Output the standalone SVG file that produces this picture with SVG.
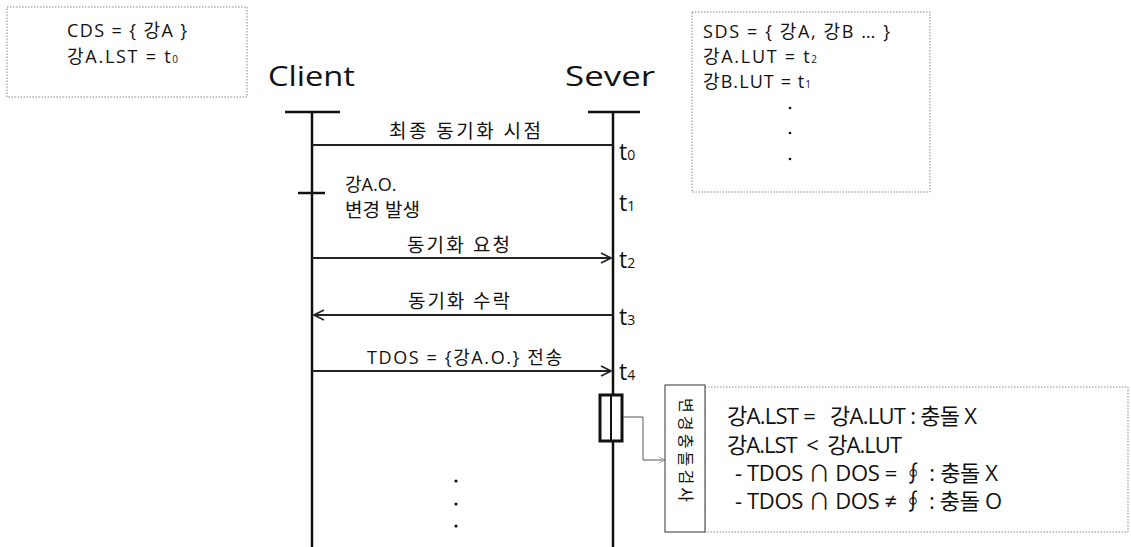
<svg xmlns="http://www.w3.org/2000/svg" width="1131" height="547" viewBox="0 0 1131 547">
<style>
.t{font-family:"Open Sans","Noto Sans CJK KR","Liberation Sans",sans-serif;fill:#111;white-space:pre}
.box{fill:#fff;stroke:#888;stroke-width:1;stroke-dasharray:1.5 1.5}
.life{stroke:#111;stroke-width:2.5;fill:none}
.msg{stroke:#222;stroke-width:2;fill:none}
</style>
<defs>
<marker id="ah" viewBox="0 0 12 12" refX="11" refY="6" markerWidth="12" markerHeight="12" markerUnits="userSpaceOnUse" orient="auto">
<path d="M1,1 L11,6 L1,11" fill="none" stroke="#222" stroke-width="1.6"/>
</marker>
<marker id="ah2" viewBox="0 0 10 10" refX="9" refY="5" markerWidth="8" markerHeight="8" markerUnits="userSpaceOnUse" orient="auto">
<path d="M1,1 L9,5 L1,9" fill="none" stroke="#999" stroke-width="1"/>
</marker>
</defs>
<rect width="1131" height="547" fill="#fff"/>
<g id="cds">
<rect class="box" x="7" y="7" width="240" height="90"/>
<text class="t" x="67" y="37" font-size="18" textLength="120" lengthAdjust="spacing" xml:space="preserve">CDS = { 강A }</text>
<text class="t" x="67" y="63" font-size="18" textLength="111" lengthAdjust="spacing" xml:space="preserve">강A.LST = t<tspan font-size="10">0</tspan></text>
</g>
<g id="sds">
<rect class="box" x="692" y="12" width="238" height="180"/>
<text class="t" x="703" y="38" font-size="18" textLength="187" lengthAdjust="spacing" xml:space="preserve">SDS = { 강A, 강B … }</text>
<text class="t" x="703" y="63" font-size="18" textLength="114" lengthAdjust="spacing" xml:space="preserve">강A.LUT = t<tspan font-size="10">2</tspan></text>
<text class="t" x="703" y="88" font-size="18" textLength="108" lengthAdjust="spacing" xml:space="preserve">강B.LUT = t<tspan font-size="10">1</tspan></text>
<circle cx="790" cy="108" r="1.3" fill="#111"/>
<circle cx="790" cy="133" r="1.3" fill="#111"/>
<circle cx="790" cy="159" r="1.3" fill="#111"/>
</g>
<g id="client">
<text class="t" x="268" y="86" font-size="27" textLength="87" lengthAdjust="spacingAndGlyphs">Client</text>
<line class="life" x1="285" y1="112" x2="340" y2="112"/>
<line class="life" x1="312" y1="112" x2="312" y2="547"/>
<line class="life" x1="298" y1="193" x2="325" y2="193"/>
<text class="t" x="345" y="191" font-size="18">강A.O.</text>
<text class="t" x="345" y="217" font-size="19" xml:space="preserve">변경 발생</text>
<circle cx="456" cy="481" r="1.6" fill="#111"/>
<circle cx="456" cy="504" r="1.6" fill="#111"/>
<circle cx="456" cy="526" r="1.6" fill="#111"/>
</g>
<g id="server">
<text class="t" x="565" y="86" font-size="27" textLength="90" lengthAdjust="spacingAndGlyphs">Sever</text>
<line class="life" x1="588" y1="112" x2="640" y2="112"/>
<line class="life" x1="613" y1="112" x2="613" y2="547"/>
<rect x="600" y="395" width="22" height="46" fill="#fff" stroke="#111" stroke-width="3"/>
<line x1="611" y1="395" x2="611" y2="441" stroke="#111" stroke-width="2"/>
<text class="t" x="619" y="160" font-size="23">t<tspan font-size="14">0</tspan></text>
<text class="t" x="619" y="211" font-size="23">t<tspan font-size="14">1</tspan></text>
<text class="t" x="619" y="268" font-size="23">t<tspan font-size="14">2</tspan></text>
<text class="t" x="619" y="325" font-size="23">t<tspan font-size="14">3</tspan></text>
<text class="t" x="619" y="380" font-size="23">t<tspan font-size="14">4</tspan></text>
</g>
<g id="connectors">
<line class="msg" x1="312" y1="145" x2="613" y2="145"/>
<text class="t" x="389" y="138" font-size="19" textLength="152" lengthAdjust="spacing" xml:space="preserve">최종 동기화 시점</text>
<line class="msg" x1="312" y1="258" x2="611" y2="258" marker-end="url(#ah)"/>
<text class="t" x="407" y="252" font-size="19" textLength="103" lengthAdjust="spacing" xml:space="preserve">동기화 요청</text>
<line class="msg" x1="613" y1="315" x2="314" y2="315" marker-end="url(#ah)"/>
<text class="t" x="408" y="308" font-size="19" textLength="102" lengthAdjust="spacing" xml:space="preserve">동기화 수락</text>
<line class="msg" x1="312" y1="371" x2="611" y2="371" marker-end="url(#ah)"/>
<text class="t" x="367" y="364" font-size="18" textLength="195" lengthAdjust="spacing" xml:space="preserve">TDOS = {강A.O.} 전송</text>
<polyline points="623,417 643,417 643,460 665,460" fill="none" stroke="#555" stroke-width="1" marker-end="url(#ah2)"/>
</g>
<g id="check">
<rect class="box" x="705" y="387" width="423" height="145"/>
<rect x="665" y="385" width="40" height="147" fill="#fff" stroke="#333" stroke-width="1"/>
<text class="t" transform="translate(680,398) rotate(90)" font-size="16" textLength="104" lengthAdjust="spacing">변경충돌검사</text>
<text class="t" x="727" y="424" font-size="22" textLength="250" lengthAdjust="spacing" xml:space="preserve">강A.LST =   강A.LUT : 충돌 X</text>
<text class="t" x="727" y="453" font-size="22" textLength="175" lengthAdjust="spacing" xml:space="preserve">강A.LST  &lt;  강A.LUT</text>
<text class="t" x="735" y="481" font-size="22" textLength="263" lengthAdjust="spacing" xml:space="preserve">- TDOS ∩ DOS = ∮ : 충돌 X</text>
<text class="t" x="735" y="509" font-size="22" textLength="267" lengthAdjust="spacing" xml:space="preserve">- TDOS ∩ DOS ≠ ∮ : 충돌 O</text>
</g>
</svg>
